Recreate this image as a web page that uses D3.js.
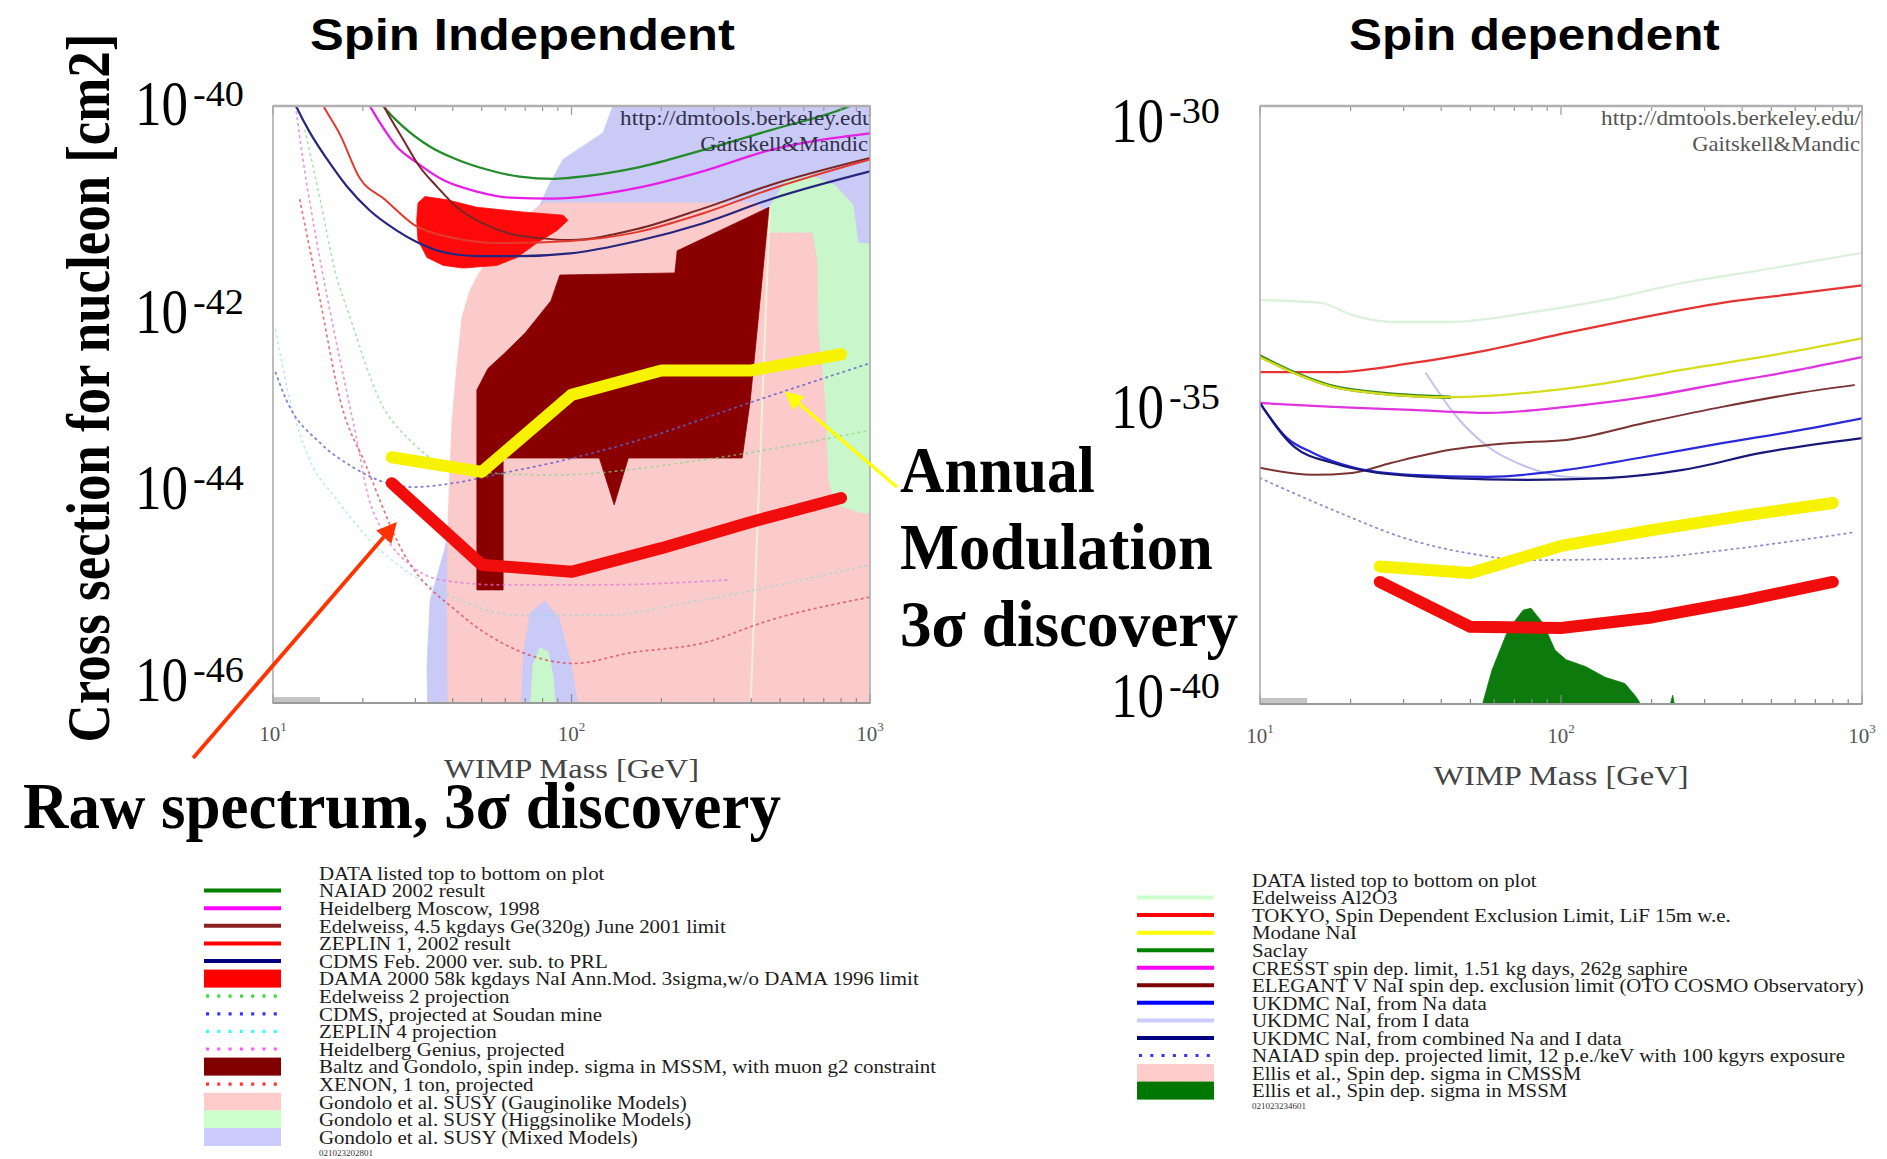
<!DOCTYPE html>
<html>
<head>
<meta charset="utf-8">
<script src="https://cdn.jsdelivr.net/npm/d3@7"></script>
<style>
  html, body { margin: 0; padding: 0; background: #fff; }
  svg { display: block; }
</style>
</head>
<body>
<svg id="chart" width="1887" height="1159"></svg>
<script>
// ---------------------------------------------------------------
// Spin-independent panel: [WIMP mass (GeV), cross section (cm^2)]
// ---------------------------------------------------------------
const siNaiad = [[22,1.3e-40],[23.4,1.0e-40],[27.3,6.2e-41],[33.6,3.9e-41],[41.3,2.9e-41],[52,2.3e-41],[67,1.95e-41],[87,1.85e-41],[99,1.9e-41],[166,2.4e-41],[275,3.6e-41],[462,5.7e-41],[857,1.0e-40],[950,1.15e-40]];
const siHeidelberg = [[20,1.3e-40],[21.1,1.0e-40],[22.8,6.8e-41],[26.0,3.9e-41],[30.3,2.7e-41],[37.2,1.8e-41],[48.2,1.38e-41],[62.2,1.2e-41],[86.7,1.17e-41],[166,1.5e-41],[275,2.2e-41],[462,3.6e-41],[1000,5.3e-41]];
const siEdelweiss = [[22.8,1.2e-40],[23.5,1.0e-40],[27.3,4.6e-41],[31.0,2.45e-41],[35.4,1.55e-41],[41.3,9.6e-42],[50.5,6.6e-42],[62.2,5.2e-42],[78.3,4.7e-42],[98.9,4.5e-42],[166,5.8e-42],[275,9.3e-42],[462,1.6e-41],[1000,3.0e-41]];
const siZeplin1 = [[14.5,1.1e-40],[14.9,9.5e-41],[16.8,5.1e-41],[19.5,1.9e-41],[23.7,1.15e-41],[29.9,6.3e-42],[39.2,4.8e-42],[57.5,4.2e-42],[98.9,4.4e-42],[166,5.4e-42],[275,8.3e-42],[462,1.45e-41],[1000,2.9e-41]];
const siCdms = [[11.6,1.2e-40],[11.9,1.02e-40],[13.3,5.4e-41],[15.2,2.9e-41],[17.7,1.55e-41],[21.1,8.9e-42],[26.0,5.6e-42],[30.3,4.3e-42],[37.2,3.4e-42],[48.2,3.1e-42],[67.1,3.1e-42],[98.9,3.3e-42],[166,4.4e-42],[275,6.6e-42],[462,1.15e-41],[1000,2.2e-41]];
const siDama = [[32.3,1.23e-41],[38.3,1.14e-41],[48.2,9.6e-42],[68.8,8.6e-42],[93.7,8.0e-42],[97.3,7.1e-42],[89.4,5.6e-42],[76.6,4.2e-42],[65.6,3.0e-42],[56.2,2.5e-42],[43.4,2.35e-42],[37.2,2.5e-42],[32.8,3.0e-42],[30.6,4.5e-42],[30.3,7.1e-42],[30.6,1.06e-41]];
const siBaltz = [[48.2,1.37e-45],[48.2,1.4e-43],[52.5,2.3e-43],[59.8,3.3e-43],[69.8,5.2e-43],[85.3,1.1e-42],[91.4,2.0e-42],[222,2.1e-42],[226,3.5e-42],[459,9.6e-42],[428,1.1e-42],[397,1.1e-43],[373,2.9e-44],[155,2.9e-44],[139,9.8e-45],[124,2.9e-44],[59.0,2.9e-44],[59.0,1.37e-45]];
const siMixed = [[142,1.3e-40],[1100,1.3e-40],[1100,8e-47],[33.0,8e-47],[32.8,2.3e-46],[33.6,1.08e-45],[37.6,3.5e-45],[42.5,2.2e-44],[51.0,2.0e-42],[57.6,4.5e-42],[78.4,1.01e-41],[83.4,1.53e-41],[93.6,2.9e-41],[127.6,5.4e-41]];
const siHiggsino = [[455,9.0e-42],[519,1.72e-41],[630,2.0e-41],[763,1.6e-41],[877,1.01e-41],[912,4.2e-42],[1100,4.0e-42],[1100,6.9e-45],[925,8.1e-45],[763,9.8e-45],[723,1.75e-44],[706,1.1e-43],[670,5.6e-43],[664,2.8e-42],[640,5.3e-42],[462,5.3e-42]];
const siHiggsinoLow = [[72.6,8e-47],[74.3,2.4e-46],[78.4,3.6e-46],[83.4,3.3e-46],[86.7,1.9e-46],[88.7,8e-47]];
const siGaugino = [[48.6,2.0e-42],[57.6,4.5e-42],[72.6,8.4e-42],[81.5,1.06e-41],[418,1.06e-41],[445,8.0e-42],[462,5.3e-42],[640,5.3e-42],[664,2.8e-42],[670,5.6e-43],[706,1.1e-43],[723,1.75e-44],[763,9.8e-45],[925,8.1e-45],[1100,7.7e-45],[1100,8e-47],[106.7,8e-47],[100.5,2.4e-46],[91.4,7.1e-46],[81.5,1.08e-45],[72.6,8.2e-46],[68.8,3.4e-46],[67.2,8e-47],[38.6,8e-47],[38.3,1.08e-45],[38.6,6.9e-45],[39.8,6.9e-44],[41.3,2.4e-43],[43.0,7.6e-43],[45.7,1.4e-42]];
const siGauginoEdge = [[462,9.6e-42],[397,8e-47]];
const siCdmsSoudan = [[10.2,2.1e-43],[11.1,1.1e-43],[14.4,4.1e-44],[18.5,2.35e-44],[24.1,1.62e-44],[29.4,1.48e-44],[40.1,1.62e-44],[59.0,2.05e-44],[86.7,2.6e-44],[169,4.4e-44],[402,1.06e-43],[1000,2.6e-43]];
const siGenius = [[11.9,1.0e-40],[12.6,2.9e-41],[13.8,5.6e-42],[15.5,8.9e-43],[17.7,1.3e-43],[19.1,4.4e-44],[20.6,1.38e-44],[23.7,4.9e-45],[28.8,2.45e-45],[36.3,1.73e-45],[57.6,1.54e-45],[124.6,1.54e-45],[339.6,1.73e-45]];
const siXenon = [[12.3,1.14e-41],[14.4,1.1e-42],[16.8,1.1e-43],[20.6,2.35e-44],[27.0,3.45e-45],[42.0,8.0e-46],[65.6,3.4e-46],[101.9,2.5e-46],[158,3.2e-46],[275,4.0e-46],[462,6.8e-46],[1000,1.16e-45]];
const siEdelweiss2 = [[12.8,5.7e-41],[14.4,1.14e-41],[16.1,2.25e-42],[18.1,7.6e-43],[22.8,1.1e-43],[29.4,4.1e-44],[42.3,2.2e-44],[84.7,1.95e-44],[269,2.75e-44],[1000,5.5e-44]];
const siZeplin4 = [[10.2,5.6e-43],[11.4,1.1e-43],[13.3,2.75e-44],[16.4,1.1e-44],[21.1,4.35e-45],[28.8,2.0e-45],[42.3,1.08e-45],[67.2,7.6e-46],[124.6,7.6e-46],[269,1.08e-45],[1000,2.45e-45]];
// Projected 3-sigma discovery reach
const siAnnualMod = [[25,2.95e-44],[50,2.1e-44],[100,1.25e-43],[200,2.2e-43],[400,2.2e-43],[800,3.2e-43]];
const siRawSpectrum = [[25,1.62e-44],[50,2.45e-45],[100,2.08e-45],[200,3.6e-45],[400,6.6e-45],[800,1.15e-44]];

// ---------------------------------------------------------------
// Spin-dependent panel: [WIMP mass (GeV), cross section (cm^2)]
// ---------------------------------------------------------------
const sdEdelweissAl2O3 = [[10,5.7e-34],[15.9,5.1e-34],[20.2,3.2e-34],[27.2,2.45e-34],[42.8,2.45e-34],[77.1,3.45e-34],[140,5.7e-34],[254,1.1e-33],[462,1.8e-33],[1000,3.5e-33]];
const sdTokyo = [[10,3.55e-35],[17.5,3.55e-35],[31.8,5.0e-35],[57.2,8.3e-35],[104,1.6e-34],[189,2.95e-34],[343,5.1e-34],[622,7.4e-34],[1000,1.0e-33]];
const sdModane = [[10,6.3e-35],[13,3.4e-35],[17.5,2.0e-35],[23.6,1.6e-35],[42.8,1.35e-35],[77.1,1.6e-35],[140,2.3e-35],[254,3.9e-35],[462,6.3e-35],[1000,1.3e-34]];
const sdSaclay = [[10,6.6e-35],[13,3.5e-35],[17.5,2.05e-35],[23.6,1.63e-35],[42.8,1.35e-35]];
const sdCresst = [[10,1.08e-35],[17.5,9.3e-36],[31.8,8.3e-36],[57.2,7.4e-36],[104,9.3e-36],[189,1.35e-35],[343,2.3e-35],[622,3.9e-35],[1000,6.3e-35]];
const sdElegant = [[10,8.9e-37],[15,6.8e-37],[20.2,7.3e-37],[27.2,1.07e-36],[42.8,1.78e-36],[66.7,2.3e-36],[104,2.6e-36],[189,5.0e-36],[343,9.3e-36],[622,1.6e-35],[940,2.15e-35]];
const sdUkdmcNa = [[10,1.08e-35],[12.2,2.9e-36],[15,1.58e-36],[20.2,9.2e-37],[31.8,6.8e-37],[57.2,6.3e-37],[104,8.2e-37],[189,1.35e-36],[343,2.3e-36],[622,3.8e-36],[1000,6.0e-36]];
const sdUkdmcI = [[35.6,3.4e-35],[45.1,6.3e-36],[57.2,2.0e-36],[77.1,9.2e-37],[104,6.3e-37],[150,5.9e-37]];
const sdUkdmcComb = [[10,1.08e-35],[13,2.0e-36],[17.5,1.07e-36],[23.6,7.6e-37],[42.8,6.0e-37],[77.1,5.6e-37],[140,6.0e-37],[254,8.2e-37],[462,1.58e-36],[1000,2.8e-36]];
const sdNaiadProj = [[10,6.0e-37],[17.5,1.75e-37],[31.8,5.5e-38],[49.5,3.3e-38],[77.1,2.55e-38],[189,2.75e-38],[343,3.7e-38],[622,5.5e-38],[955,7.5e-38]];
const sdEllisMssm = [[54.2,8e-41],[59.0,3.7e-40],[66.7,1.73e-39],[74.8,3.7e-39],[79.5,4.0e-39],[87.1,2.25e-39],[95.5,8.0e-40],[104,5.5e-40],[121,4.2e-40],[140,2.8e-40],[163,2.2e-40],[178,1.3e-40],[189,8e-41]];
const sdEllisMssmSpike = [[228,8e-41],[235,1.4e-40],[240,8e-41]];
const sdAnnualMod = [[25,2.0e-38],[50,1.55e-38],[100,4.4e-38],[200,8.1e-38],[400,1.4e-37],[800,2.3e-37]];
const sdRawSpectrum = [[25,1.1e-38],[50,1.95e-39],[100,1.86e-39],[200,2.8e-39],[400,5.3e-39],[800,1.1e-38]];

// Axis ticks
const massTicks = [10, 100, 1000];
const siExponents = [-40, -42, -44, -46];
const sdExponents = [-30, -35, -40];

// Legend texts
const siLegendLabels = [
  "NAIAD 2002 result",
  "Heidelberg Moscow, 1998",
  "Edelweiss, 4.5 kgdays Ge(320g) June 2001 limit",
  "ZEPLIN 1, 2002 result",
  "CDMS Feb. 2000 ver. sub. to PRL",
  "DAMA 2000 58k kgdays NaI Ann.Mod. 3sigma,w/o DAMA 1996 limit",
  "Edelweiss 2 projection",
  "CDMS, projected at Soudan mine",
  "ZEPLIN 4 projection",
  "Heidelberg  Genius, projected",
  "Baltz and Gondolo, spin indep. sigma in MSSM, with muon g2 constraint",
  "XENON, 1 ton, projected",
  "Gondolo et al. SUSY (Gauginolike Models)",
  "Gondolo et al. SUSY (Higgsinolike Models)",
  "Gondolo et al. SUSY (Mixed Models)"
];
const sdLegendLabels = [
  "Edelweiss Al2O3",
  "TOKYO, Spin Dependent Exclusion Limit, LiF 15m w.e.",
  "Modane NaI",
  "Saclay",
  "CRESST spin dep. limit, 1.51 kg days, 262g saphire",
  "ELEGANT V NaI spin dep. exclusion limit (OTO COSMO Observatory)",
  "UKDMC NaI, from Na data",
  "UKDMC NaI, from I data",
  "UKDMC NaI, from combined Na and I data",
  "NAIAD spin dep. projected limit, 12 p.e./keV with 100 kgyrs exposure",
  "Ellis et al., Spin dep. sigma in CMSSM",
  "Ellis et al., Spin dep. sigma in MSSM"
];

// Swatch kind and colour for each legend row
const siLegendSwatches = [
  ["line","#008000"],["line","#ff00ff"],["line","#8b2222"],["line","#ff0000"],["line","#000080"],
  ["box","#ff0000"],["dot","#33dd33"],["dot","#3333ff"],["dot","#33ffff"],["dot","#ff55ff"],
  ["box","#800000"],["dot","#ff3333"],["box","#ffcccc"],["box","#ccffcc"],["box","#ccccff"]
];
const sdLegendSwatches = [
  ["line","#ccffcc"],["line","#ff0000"],["line","#ffff00"],["line","#008000"],["line","#ff00ff"],
  ["line","#800000"],["line","#0000ff"],["line","#ccccff"],["line","#000080"],["dot","#3333ff"],
  ["box","#ffcccc"],["box","#007700"]
];

const SERIF = "'Liberation Serif', 'Times New Roman', serif";
const SANS = "'Liberation Sans', Arial, sans-serif";

const svg = d3.select("#chart");
const defs = svg.append("defs");

const xL = d3.scaleLog().domain([10, 1000]).range([273, 870]);
const yL = d3.scaleLog().domain([1e-40, 1e-46]).range([106, 703]);
const xR = d3.scaleLog().domain([10, 1000]).range([1260, 1862]);
const yR = d3.scaleLog().domain([1e-30, 1e-40]).range([106, 704]);

// Text squeezed/stretched horizontally to a given width
function fitted(parent, x, y, width, s, attrs, rotate) {
  const t = parent.append("text").text(s);
  Object.entries(attrs).forEach(([k, v]) => t.attr(k, v));
  const w = t.node().getComputedTextLength();
  t.attr("transform", `translate(${x},${y})${rotate ? ` rotate(${rotate})` : ""} scale(${width / w},1)`);
  return t;
}

function makePanel(id, x, y) {
  const [x0, x1] = x.range(), [y0, y1] = y.range();
  defs.append("clipPath").attr("id", id)
    .append("rect").attr("x", x0).attr("y", y0).attr("width", x1 - x0).attr("height", y1 - y0);
  const g = svg.append("g");
  g.append("rect").attr("x", x0).attr("y", y0).attr("width", x1 - x0).attr("height", y1 - y0).attr("fill", "#fff");
  const plot = g.append("g").attr("clip-path", `url(#${id})`);
  return { g, plot, x, y };
}

function region(p, pts, fill) {
  const ln = d3.line().x(d => p.x(d[0])).y(d => p.y(d[1]));
  p.plot.append("path").attr("d", ln(pts) + "Z").attr("fill", fill).attr("stroke", fill).attr("stroke-width", 0.8);
}
function curve(p, pts, color, width, dash, opacity) {
  const ln = d3.line().x(d => p.x(d[0])).y(d => p.y(d[1])).curve(d3.curveMonotoneX);
  const path = p.plot.append("path").attr("d", ln(pts)).attr("fill", "none")
    .attr("stroke", color).attr("stroke-width", width)
    .attr("stroke-linejoin", "round").attr("stroke-linecap", "round");
  if (dash) path.attr("stroke-dasharray", dash);
  if (opacity != null) path.attr("stroke-opacity", opacity);
}
function thick(p, pts, color) {
  const ln = d3.line().x(d => p.x(d[0])).y(d => p.y(d[1]));
  p.plot.append("path").attr("d", ln(pts)).attr("fill", "none")
    .attr("stroke", color).attr("stroke-width", 12)
    .attr("stroke-linejoin", "round").attr("stroke-linecap", "round");
}

function frame(p, labelBaseline, titleBaseline) {
  const [x0, x1] = p.x.range(), [y0, y1] = p.y.range();
  const g = p.g;
  const ticks = [];
  for (let dec = 10; dec < 1000; dec *= 10)
    for (let k = 1; k <= 9; k++) ticks.push(dec * k);
  ticks.push(1000);
  ticks.forEach(t => {
    const len = massTicks.includes(t) ? 9 : 5;
    g.append("line").attr("x1", p.x(t)).attr("x2", p.x(t)).attr("y1", y1).attr("y2", y1 - len)
      .attr("stroke", "#8a8a8a").attr("stroke-width", 1.2);
    g.append("line").attr("x1", p.x(t)).attr("x2", p.x(t)).attr("y1", y0).attr("y2", y0 + len)
      .attr("stroke", "#9a9a9a").attr("stroke-width", 1.2);
  });
  g.append("rect").attr("x", x0).attr("y", y0).attr("width", x1 - x0).attr("height", y1 - y0)
    .attr("fill", "none").attr("stroke", "#a8a8a8").attr("stroke-width", 1.5);
  g.append("line").attr("x1", x0).attr("x2", x1).attr("y1", y0).attr("y2", y0)
    .attr("stroke", "#b0b0b0").attr("stroke-width", 2.5);
  g.append("line").attr("x1", x0).attr("x2", x1).attr("y1", y1).attr("y2", y1)
    .attr("stroke", "#9a9a9a").attr("stroke-width", 2);
  g.append("rect").attr("x", x0 + 1).attr("y", y1 - 6).attr("width", 46).attr("height", 5).attr("fill", "#c4c4c4");
  massTicks.forEach(t => {
    const txt = g.append("text").attr("x", p.x(t)).attr("y", labelBaseline)
      .attr("text-anchor", "middle").attr("font-family", SERIF).attr("fill", "#555");
    txt.append("tspan").attr("font-size", 21).text("10");
    txt.append("tspan").attr("font-size", 13).attr("dy", -10).text(Math.round(Math.log10(t)));
  });
  fitted(g, (x0 + x1) / 2, titleBaseline, 255, "WIMP Mass [GeV]",
    { "text-anchor": "middle", "font-family": SERIF, "font-size": 27, "fill": "#444" });
}

function watermark(p, xEnd, color) {
  const y0 = p.y.range()[0];
  fitted(p.plot, xEnd, y0 + 19, 260, "http://dmtools.berkeley.edu/",
    { "text-anchor": "end", "font-family": SERIF, "font-size": 22, "fill": color });
  fitted(p.plot, p.x.range()[1] - 2, y0 + 45, 168, "Gaitskell&Mandic",
    { "text-anchor": "end", "font-family": SERIF, "font-size": 22, "fill": color });
}

// ---------------- Spin independent ----------------
const pL = makePanel("clipL", xL, yL);
region(pL, siMixed, "#cacaf6");
region(pL, siHiggsino, "#c9f6ca");
region(pL, siGaugino, "#fbcaca");
region(pL, siHiggsinoLow, "#c9f6ca");
curve(pL, siGauginoEdge, "#eef0d6", 2);
region(pL, siBaltz, "#8a0000");
region(pL, siDama, "#ff0a0a");
curve(pL, siEdelweiss2, "#7fd87f", 1.6, "1.5,4.5", 0.7);
curve(pL, siZeplin4, "#88dede", 1.6, "1.5,4.5", 0.6);
curve(pL, siCdmsSoudan, "#6262c8", 1.8, "1.5,4.5", 0.8);
curve(pL, siGenius, "#e070e0", 1.8, "1.5,4.5", 0.7);
curve(pL, siXenon, "#d84a58", 1.8, "1.5,4.5", 0.75);
curve(pL, siNaiad, "#238b2b", 2.3);
curve(pL, siHeidelberg, "#e61fe6", 2.3);
curve(pL, siEdelweiss, "#7a2626", 2.0);
curve(pL, siZeplin1, "#e23a2e", 2.0);
curve(pL, siCdms, "#26267e", 2.2);
thick(pL, siAnnualMod, "#f7f200");
thick(pL, siRawSpectrum, "#f20d0d");
watermark(pL, 880, "#30304a");
frame(pL, 741, 778);

// ---------------- Spin dependent ----------------
const pR = makePanel("clipR", xR, yR);
curve(pR, sdEdelweissAl2O3, "#dcf2dc", 2.4);
curve(pR, sdUkdmcI, "#c2c2ee", 2.0);
curve(pR, sdTokyo, "#e43434", 2.3);
curve(pR, sdSaclay, "#3a8a1f", 3.4);
curve(pR, sdModane, "#d6dc1c", 2.2);
curve(pR, sdCresst, "#e034e0", 2.3);
curve(pR, sdElegant, "#7a3434", 2.0);
curve(pR, sdUkdmcNa, "#2a2ad8", 2.2);
curve(pR, sdUkdmcComb, "#18187c", 2.2);
curve(pR, sdNaiadProj, "#7070c4", 1.8, "1.5,4.5", 0.8);
region(pR, sdEllisMssm, "#0c7a0c");
region(pR, sdEllisMssmSpike, "#0c7a0c");
thick(pR, sdAnnualMod, "#f7f200");
thick(pR, sdRawSpectrum, "#f20d0d");
watermark(pR, 1861, "#555");
frame(pR, 743, 785);

// ---------------- Titles and axis lettering ----------------
fitted(svg, 310, 50, 425, "Spin Independent",
  { "font-family": SANS, "font-weight": "bold", "font-size": 45 });
fitted(svg, 1349, 50, 371, "Spin dependent",
  { "font-family": SANS, "font-weight": "bold", "font-size": 45 });
fitted(svg, 109, 388, 709, "Cross section for nucleon [cm2]",
  { "text-anchor": "middle", "font-family": SERIF, "font-weight": "bold", "font-size": 62 }, -90);

// large power-of-ten labels beside each panel
const siLabelBase = [125, 333, 509, 701];
const sdLabelBase = [142, 428, 717];
function powerLabel(xBase, baseline, exp) {
  fitted(svg, xBase, baseline, 53, "10", { "font-family": SERIF, "font-size": 64 });
  fitted(svg, xBase + 58, baseline - 19, 51, String(exp), { "font-family": SERIF, "font-size": 35 });
}
siExponents.forEach((e, i) => powerLabel(135, siLabelBase[i], e));
sdExponents.forEach((e, i) => powerLabel(1111, sdLabelBase[i], e));

// ---------------- Annotations ----------------
function bigText(x, y, len, s) {
  fitted(svg, x, y, len, s, { "font-family": SERIF, "font-weight": "bold", "font-size": 66 });
}
bigText(900, 492, 195, "Annual");
bigText(900, 569, 313, "Modulation");
bigText(900, 646, 338, "3\u03c3 discovery");
bigText(23, 828, 758, "Raw spectrum, 3\u03c3 discovery");

function arrow(from, to, color, width, head) {
  const x1 = xL(from[0]), y1 = yL(from[1]), x2 = xL(to[0]), y2 = yL(to[1]);
  const a = Math.atan2(y2 - y1, x2 - x1);
  const bx = x2 - head * Math.cos(a), by = y2 - head * Math.sin(a);
  svg.append("line").attr("x1", x1).attr("y1", y1).attr("x2", bx).attr("y2", by)
    .attr("stroke", color).attr("stroke-width", width);
  const w = head * 0.5;
  const pts = [[x2, y2], [bx + w * Math.sin(a), by - w * Math.cos(a)], [bx - w * Math.sin(a), by + w * Math.cos(a)]];
  svg.append("path").attr("d", "M" + pts.map(q => q.join(",")).join("L") + "Z").attr("fill", color);
}
arrow([1230, 1.48e-44], [519, 1.35e-43], "#ffff00", 3.2, 18);
arrow([5.4, 2.8e-47], [26.0, 6.6e-45], "#ff3300", 3.8, 20);

// ---------------- Legends ----------------
function legend(labels, swatches, sw0, sw1, xText, yHeader, rowH, code, refLabel, refWidth) {
  const g = svg.append("g");
  const probe = g.append("text").attr("font-family", SERIF).attr("font-size", 19.5).text(refLabel);
  const sx = refWidth / probe.node().getComputedTextLength();
  probe.remove();
  const row = (y, s) => g.append("text").attr("transform", `translate(${xText},${y}) scale(${sx},1)`)
    .attr("dy", "0.35em").attr("font-family", SERIF).attr("font-size", 19.5).attr("fill", "#1c1c1c").text(s);
  row(yHeader, "DATA listed top to bottom on plot");
  labels.forEach((s, i) => {
    const y = yHeader + (i + 1) * rowH;
    const [kind, color] = swatches[i];
    if (kind === "line") {
      g.append("line").attr("x1", sw0).attr("x2", sw1).attr("y1", y).attr("y2", y)
        .attr("stroke", color).attr("stroke-width", 4);
    } else if (kind === "dot") {
      g.append("line").attr("x1", sw0 + 2).attr("x2", sw1).attr("y1", y).attr("y2", y)
        .attr("stroke", color).attr("stroke-width", 3.2).attr("stroke-dasharray", "3,8.3");
    } else {
      g.append("rect").attr("x", sw0).attr("y", y - 9).attr("width", sw1 - sw0).attr("height", 18).attr("fill", color);
    }
    row(y, s);
  });
  g.append("text").attr("x", xText).attr("y", yHeader + (labels.length + 1) * rowH - 2)
    .attr("dy", "0.35em").attr("font-family", SERIF).attr("font-size", 9).attr("fill", "#333").text(code);
}
legend(siLegendLabels, siLegendSwatches, 204, 281, 319, 873, 17.6, "021023202801",
  siLegendLabels[5], 600);
legend(sdLegendLabels, sdLegendSwatches, 1137, 1214, 1252, 880, 17.55, "021023234601",
  sdLegendLabels[5], 612);
</script>
</body>
</html>
